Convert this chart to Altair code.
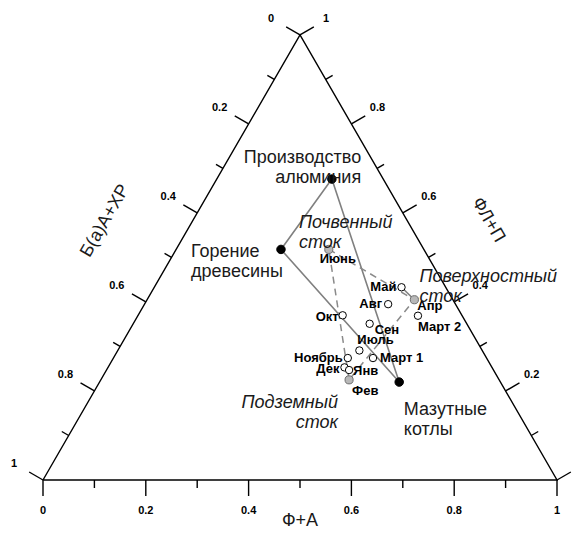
import altair as alt
import pandas as pd

# ---------------- data (ternary fractions) ----------------
# Ф+А = bottom axis, ФЛ+П = right axis, Б(а)А+ХР = 1 - (Ф+А) - (ФЛ+П)
source_names = ["Производство\nалюминия", "Горение\nдревесины", "Мазутные\nкотлы"]
source_fa = [0.224, 0.204, 0.583]
source_flp = [0.676, 0.518, 0.220]

runoff_names = ["Почвенный\nсток", "Поверхностный\nсток", "Подземный\nсток"]
runoff_months = ["Июнь", "Апр", "Фев"]
runoff_fa = [0.297, 0.520, 0.483]
runoff_flp = [0.518, 0.405, 0.225]

month_names = ["Май", "Авг", "Март 2", "Окт", "Сен", "Июль", "Март 1", "Ноябрь", "Дек", "Янв"]
month_fa = [0.481, 0.474, 0.545, 0.398, 0.460, 0.470, 0.505, 0.456, 0.460, 0.472]
month_flp = [0.433, 0.395, 0.369, 0.370, 0.351, 0.291, 0.274, 0.274, 0.253, 0.247]

link_pair = ["Май", "Апр"]

tick_values = [0.0, 0.1, 0.2, 0.3, 0.4, 0.5, 0.6, 0.7, 0.8, 0.9, 1.0]
tick_labels = ["0", "", "0.2", "", "0.4", "", "0.6", "", "0.8", "", "1"]

axis_titles = ["Ф+А", "Б(а)А+ХР", "ФЛ+П"]

# ---------------- layout / style (kept apart from the data) ----------------
K = 514.0          # pixels per unit side length
S = 0.8660254      # sqrt(3)/2
W, H = 514, 445
FONT = "Liberation Sans"
INK = "#1a1a1a"

# month label placement: align, dx, dy (pixels, dy downward)
label_place = {
    "Июнь": ("center", 9, 10), "Май": ("right", -5, 0), "Авг": ("right", -6, 0),
    "Апр": ("left", 3, 6), "Март 2": ("left", 0, 11), "Окт": ("right", -4, 2),
    "Сен": ("left", 5, 6), "Июль": ("left", -2, -10), "Март 1": ("left", 7, 0),
    "Ноябрь": ("right", -5, 0), "Дек": ("right", -5, 2), "Янв": ("left", 4, 1),
    "Фев": ("left", 3, 11),
}
# annotation anchors in ternary (Ф+А, ФЛ+П) with alignment
source_anchor = [("right", 0.257, 0.724), ("left", 0.032, 0.512), ("left", 0.623, 0.158)]
runoff_anchor = [("left", 0.209, 0.578), ("left", 0.504, 0.457), ("right", 0.487, 0.174)]
# axis titles: cartesian x, y, angle
title_pos = [(0.5, -0.080, 0), (0.121, 0.504, 300), (0.866, 0.506, 60)]


def X(f):
    return alt.X(f"{f}:Q", scale=alt.Scale(domain=[0, 1], nice=False, zero=False), axis=None)


def Y(f):
    return alt.Y(f"{f}:Q", scale=alt.Scale(domain=[0, H / K], nice=False, zero=False), axis=None)


def tern(chart):
    return chart.transform_calculate(x="datum.fa + datum.flp / 2", y=f"datum.flp * {S}")


layers = []

# ---- triangle frame ----
corners = pd.DataFrame({"fa": [0, 1, 0, 0], "flp": [0, 0, 1, 0], "i": [0, 1, 2, 3]})
layers.append(tern(alt.Chart(corners).mark_line(color="black", strokeWidth=1.4))
              .encode(x=X("x"), y=Y("y"), order="i:Q"))

# ---- ticks and tick labels ----
tick_df = pd.DataFrame({"v": tick_values, "label": tick_labels})
sides = {
    "bottom": ("datum.v", "0", 0.0, -1.0, 0, -31),
    "left": ("(1 - datum.v) / 2", f"(1 - datum.v) * {S}", -S, 0.5, -29, 16),
    "right": ("1 - datum.v / 2", f"datum.v * {S}", S, 0.5, 26, 16),
}
for side, (bx, by, nx, ny, ox, oy) in sides.items():
    base = alt.Chart(tick_df).transform_calculate(
        len="datum.label != '' ? 16 : 8",
        bx=bx, by=by,
    ).transform_calculate(
        ex=f"datum.bx + ({nx}) * datum.len / {K}",
        ey=f"datum.by + ({ny}) * datum.len / {K}",
        lx=f"datum.bx + ({ox}) / {K}",
        ly=f"datum.by + ({oy}) / {K}",
    )
    layers.append(base.mark_rule(color="black", strokeWidth=1.4).encode(
        x=X("bx"), y=Y("by"), x2=alt.X2("ex"), y2=alt.Y2("ey")))
    layers.append(base.transform_filter("datum.label != ''").mark_text(
        font=FONT, fontSize=11, fontWeight="bold", color="black",
        align="center", baseline="middle").encode(x=X("lx"), y=Y("ly"), text="label:N"))

# ---- axis titles ----
for t, (tx, ty, ang) in zip(axis_titles, title_pos):
    tdf = pd.DataFrame({"t": [t], "x": [tx], "y": [ty]})
    layers.append(alt.Chart(tdf).mark_text(
        font=FONT, fontSize=18, color=INK, angle=ang, align="center", baseline="middle"
    ).encode(x=X("x"), y=Y("y"), text="t:N"))

# ---- connecting lines ----
src_poly = pd.DataFrame({"fa": source_fa + source_fa[:1], "flp": source_flp + source_flp[:1],
                         "i": list(range(len(source_fa) + 1))})
layers.append(tern(alt.Chart(src_poly).mark_line(color="#808080", strokeWidth=1.6))
              .encode(x=X("x"), y=Y("y"), order="i:Q"))

run_poly = pd.DataFrame({"fa": runoff_fa + runoff_fa[:1], "flp": runoff_flp + runoff_flp[:1],
                         "i": list(range(len(runoff_fa) + 1))})
layers.append(tern(alt.Chart(run_poly).mark_line(color="#8a8a8a", strokeWidth=1.5,
                                                 strokeDash=[7, 5]))
              .encode(x=X("x"), y=Y("y"), order="i:Q"))

all_names = runoff_months + month_names
all_fa = runoff_fa + month_fa
all_flp = runoff_flp + month_flp
lk = pd.DataFrame({
    "fa": [all_fa[all_names.index(n)] for n in link_pair],
    "flp": [all_flp[all_names.index(n)] for n in link_pair],
    "i": [0, 1],
})
layers.append(tern(alt.Chart(lk).mark_line(color="#808080", strokeWidth=1.6))
              .encode(x=X("x"), y=Y("y"), order="i:Q"))

# ---- points ----
src_df = pd.DataFrame({"name": source_names, "fa": source_fa, "flp": source_flp})
run_df = pd.DataFrame({"name": runoff_months, "fa": runoff_fa, "flp": runoff_flp})
mon_df = pd.DataFrame({"name": month_names, "fa": month_fa, "flp": month_flp})

layers.append(tern(alt.Chart(mon_df).mark_point(
    shape="circle", filled=True, fill="white", stroke="black", strokeWidth=1,
    size=55, opacity=1)).encode(x=X("x"), y=Y("y")))
layers.append(tern(alt.Chart(run_df).mark_point(
    shape="circle", filled=True, fill="#b8b8b8", stroke="#6e6e6e", strokeWidth=1,
    size=66, opacity=1)).encode(x=X("x"), y=Y("y")))
layers.append(tern(alt.Chart(src_df).mark_point(
    shape="circle", filled=True, fill="black", stroke="black", strokeWidth=1,
    size=72, opacity=1)).encode(x=X("x"), y=Y("y")))

# ---- month labels ----
lab_df = pd.DataFrame({
    "name": all_names, "fa": all_fa, "flp": all_flp,
    "align": [label_place[n][0] for n in all_names],
    "dx": [label_place[n][1] for n in all_names],
    "dy": [label_place[n][2] for n in all_names],
})
for al in ["left", "right", "center"]:
    layers.append(tern(alt.Chart(lab_df)).transform_filter(
        f"datum.align == '{al}'").transform_calculate(
        lx=f"datum.x + datum.dx / {K}", ly=f"datum.y - datum.dy / {K}"
    ).mark_text(font=FONT, fontSize=13, fontWeight="bold", color="black",
                align=al, baseline="middle").encode(x=X("lx"), y=Y("ly"), text="name:N"))

# ---- annotations ----
for names, anchors, style in [(source_names, source_anchor, "normal"),
                              (runoff_names, runoff_anchor, "italic")]:
    for n, (al, a, b) in zip(names, anchors):
        adf = pd.DataFrame({"t": [n], "fa": [a], "flp": [b]})
        layers.append(tern(alt.Chart(adf)).mark_text(
            font=FONT, fontSize=18, fontStyle=style, color=INK, align=al,
            baseline="middle", lineBreak="\n", lineHeight=20
        ).encode(x=X("x"), y=Y("y"), text="t:N"))

chart = alt.layer(*layers).properties(
    width=W, height=H,
    padding={"left": 35, "top": 27, "right": 19, "bottom": 50},
    autosize=alt.AutoSizeParams(type="none"),
).configure_view(stroke="transparent")

chart.save("out.html", embed_options={"renderer": "svg", "actions": False})
